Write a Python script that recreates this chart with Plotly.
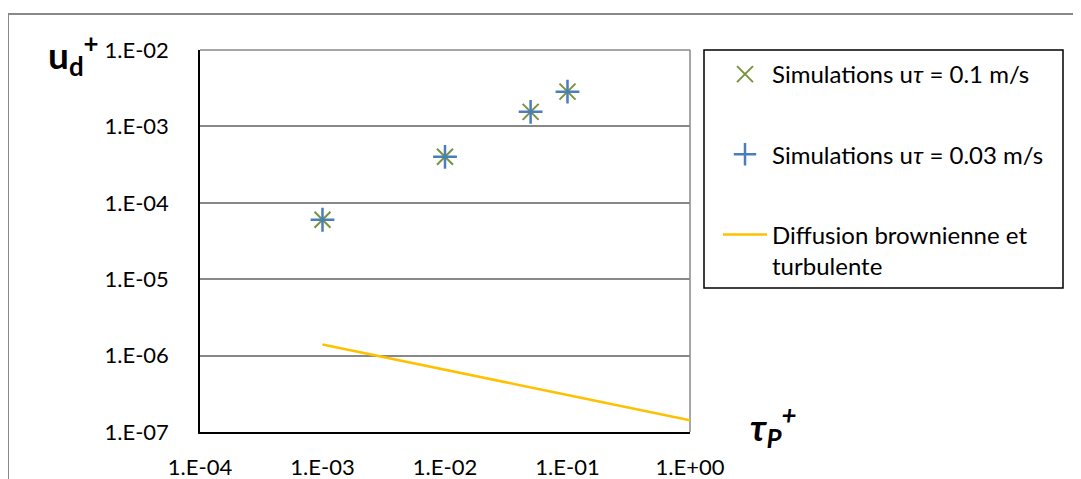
import plotly.graph_objects as go

# Data
tau_sim_01 = [1e-3, 1e-2, 5e-2, 1e-1]
ud_sim_01 = [6.0e-5, 4.0e-4, 1.55e-3, 2.85e-3]
tau_sim_003 = [1e-3, 1e-2, 5e-2, 1e-1]
ud_sim_003 = [6.0e-5, 4.0e-4, 1.55e-3, 2.85e-3]
tau_diff = [1e-3, 1e-2, 1e-1, 1e0]
ud_diff = [1.4e-6, 6.6e-7, 3.05e-7, 1.42e-7]

x_tickvals = [1e-4, 1e-3, 1e-2, 1e-1, 1e0]
x_ticktext = ["1.E-04", "1.E-03", "1.E-02", "1.E-01", "1.E+00"]
y_tickvals = [1e-7, 1e-6, 1e-5, 1e-4, 1e-3, 1e-2]
y_ticktext = ["1.E-07", "1.E-06", "1.E-05", "1.E-04", "1.E-03", "1.E-02"]

FONT = "Lato"
OFF = 8  # page body margin
W, H = 1081 - OFF, 479 - OFF
L, R, T, B = 200, 690, 50, 432  # plot area in screenshot pixels

def px(xp):
    return (xp - L) / (R - L)

def py(yp):
    return (B - yp) / (B - T)

fig = go.Figure()
fig.add_trace(go.Scatter(
    x=tau_sim_01, y=ud_sim_01, mode="markers",
    name="Simulations u<i>\u03c4</i> = 0.1 m/s", legendgroup="a",
    marker=dict(symbol="x-thin", size=16, line=dict(color="#77933C", width=2), color="#77933C"),
))
fig.add_trace(go.Scatter(
    x=tau_sim_003, y=ud_sim_003, mode="markers",
    name="Simulations u<i>\u03c4</i> = 0.03 m/s", legendgroup="b",
    marker=dict(symbol="cross-thin", size=17, line=dict(color="#4A7EBB", width=2.5), color="#4A7EBB"),
))
fig.add_trace(go.Scatter(
    x=tau_diff, y=ud_diff, mode="lines",
    name="Diffusion brownienne et<br>turbulente", legendgroup="c",
    line=dict(color="#FFC000", width=2.5),
))

fig.update_layout(
    width=W, height=H,
    margin=dict(l=L - OFF, r=W - (R - OFF), t=T - OFF, b=H - (B - OFF), autoexpand=False),
    paper_bgcolor="white", plot_bgcolor="white",
    font=dict(family=FONT, size=22, color="black"),
    showlegend=True,
    legend=dict(
        x=px(718), y=py(52), xanchor="left", yanchor="top",
        bgcolor="rgba(0,0,0,0)", borderwidth=0,
        tracegroupgap=46, valign="top",
        font=dict(family=FONT, size=24, color="black"),
        itemwidth=44,
    ),
    xaxis=dict(
        type="log", range=[-4, 0], tickvals=x_tickvals, ticktext=x_ticktext,
        showgrid=False, zeroline=False, showline=True, linecolor="black", linewidth=1.5,
        ticks="", ticklabelstandoff=15, automargin=False,
    ),
    yaxis=dict(
        type="log", range=[-7, -2], tickvals=y_tickvals, ticktext=y_ticktext,
        showgrid=True, gridcolor="#888888", gridwidth=1.5, zeroline=False,
        showline=True, linecolor="black", linewidth=1.5,
        ticks="", ticklabelstandoff=25, automargin=False,
    ),
    shapes=[
        dict(type="line", xref="paper", yref="paper", x0=1, x1=1, y0=0, y1=1,
             line=dict(color="#888888", width=1.5), layer="below"),
        dict(type="line", xref="paper", yref="paper", x0=0, x1=1, y0=1, y1=1,
             line=dict(color="#888888", width=1.5), layer="below"),
        dict(type="rect", xref="paper", yref="paper",
             x0=px(704), x1=px(1063), y0=py(288), y1=py(50),
             line=dict(color="black", width=1.5)),
        dict(type="rect", xref="paper", yref="paper",
             x0=px(8), x1=px(1100), y0=py(500), y1=py(14),
             line=dict(color="#888888", width=2)),
    ],
    annotations=[
        dict(text="<b>u<sub>d</sub><sup>+</sup></b>", xref="paper", yref="paper",
             x=px(46), y=py(25), xanchor="left", yanchor="top", showarrow=False,
             font=dict(family=FONT, size=37, color="black")),
        dict(text="<b><i>\u03c4<sub>P</sub><sup>+</sup></i></b>", xref="paper", yref="paper",
             x=px(748), y=py(397), xanchor="left", yanchor="top", showarrow=False,
             font=dict(family=FONT, size=37, color="black")),
    ],
)

fig.write_html("out.html")
